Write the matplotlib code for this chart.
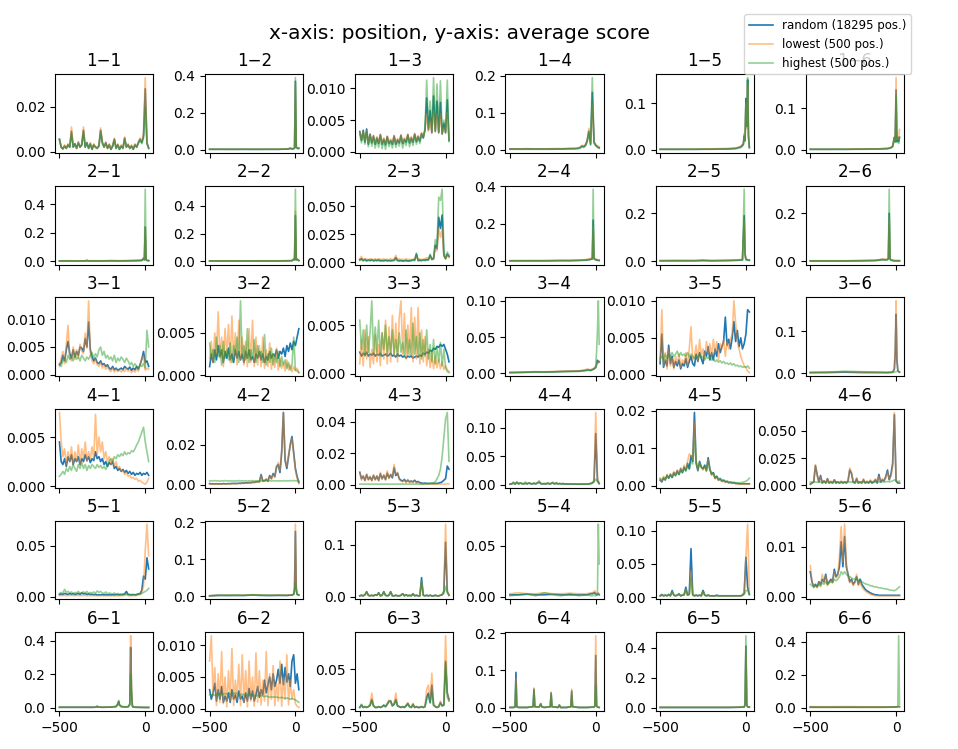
import matplotlib
matplotlib.use("Agg")
import matplotlib.pyplot as plt

labels = ["random (18295 pos.)", "lowest (500 pos.)", "highest (500 pos.)"]
colors = ["#1f77b4", "#ff7f0e", "#2ca02c"]

# every 10th position, -500 .. 20
pos_fine = list(range(-500, 21, 10))

# ---- row 1 ----
pos_1_1 = pos_fine
rand_1_1 = [0.0055, 0.002, 0.0012, 0.0025, 0.0015, 0.003, 0.002, 0.009, 0.002, 0.0035,
            0.0015, 0.004, 0.002, 0.003, 0.0095, 0.002, 0.004, 0.0015, 0.0035, 0.001,
            0.003, 0.002, 0.0015, 0.0025, 0.0095, 0.004, 0.002, 0.004, 0.0015, 0.003,
            0.001, 0.0025, 0.0055, 0.0015, 0.003, 0.001, 0.0025, 0.0015, 0.006, 0.002,
            0.003, 0.0015, 0.0025, 0.001, 0.003, 0.002, 0.004, 0.0055, 0.004, 0.007,
            0.028, 0.004, 0.0015]
low_1_1 = [0.005, 0.0025, 0.001, 0.003, 0.0012, 0.0035, 0.0018, 0.011, 0.0025, 0.003,
           0.0012, 0.0045, 0.0018, 0.0035, 0.011, 0.0025, 0.0038, 0.0012, 0.004, 0.0012,
           0.0035, 0.0018, 0.0012, 0.003, 0.0105, 0.0045, 0.0018, 0.0042, 0.0012, 0.0035,
           0.0012, 0.003, 0.006, 0.0012, 0.0035, 0.0012, 0.003, 0.0012, 0.0065, 0.0018,
           0.0035, 0.0012, 0.003, 0.0012, 0.0035, 0.0018, 0.0045, 0.006, 0.0045, 0.008,
           0.033, 0.0035, 0.0012]
high_1_1 = [0.0055, 0.0018, 0.0012, 0.0022, 0.0015, 0.0028, 0.002, 0.008, 0.002, 0.003,
            0.0015, 0.0035, 0.002, 0.0028, 0.0085, 0.002, 0.0035, 0.0015, 0.003, 0.001,
            0.0028, 0.002, 0.0015, 0.0022, 0.0085, 0.0035, 0.002, 0.0035, 0.0015, 0.0028,
            0.001, 0.0022, 0.005, 0.0015, 0.0028, 0.001, 0.0022, 0.0015, 0.0055, 0.002,
            0.0028, 0.0015, 0.0022, 0.001, 0.0028, 0.002, 0.0035, 0.005, 0.0035, 0.006,
            0.02, 0.0035, 0.0015]

pos_1_2 = [-500, -450, -400, -350, -300, -250, -200, -150, -100, -60, -40, -30, -20, -10, -5, 0, 5, 10, 15, 20]
rand_1_2 = [0.002, 0.002, 0.002, 0.002, 0.002, 0.002, 0.002, 0.002, 0.002, 0.003, 0.004, 0.008, 0.004, 0.006, 0.01, 0.37, 0.012, 0.01, 0.006, 0.008]
low_1_2 = [0.002, 0.003, 0.002, 0.002, 0.003, 0.002, 0.002, 0.003, 0.003, 0.004, 0.006, 0.01, 0.005, 0.008, 0.012, 0.36, 0.015, 0.012, 0.008, 0.01]
high_1_2 = [0.002, 0.002, 0.002, 0.002, 0.002, 0.002, 0.002, 0.002, 0.002, 0.003, 0.003, 0.006, 0.003, 0.005, 0.008, 0.39, 0.01, 0.008, 0.005, 0.006]

pos_1_3 = pos_fine
rand_1_3 = [0.0032, 0.0018, 0.0034, 0.0015, 0.0036, 0.0012, 0.0028, 0.0014, 0.0025, 0.0012,
            0.0022, 0.0013, 0.0027, 0.0012, 0.002, 0.0011, 0.0024, 0.0013, 0.0018, 0.0012,
            0.0025, 0.0012, 0.0019, 0.0014, 0.0026, 0.0013, 0.002, 0.0015, 0.0027, 0.0014,
            0.0022, 0.0015, 0.0028, 0.0016, 0.0024, 0.0017, 0.0029, 0.0022, 0.0035, 0.0085,
            0.0035, 0.0065, 0.003, 0.0088, 0.0032, 0.008, 0.003, 0.0078, 0.0028, 0.0045,
            0.003, 0.0082, 0.0018]
low_1_3 = [0.003, 0.002, 0.0032, 0.0017, 0.0033, 0.0014, 0.0027, 0.0016, 0.0026, 0.0014,
           0.0024, 0.0015, 0.0028, 0.0014, 0.0022, 0.0013, 0.0025, 0.0015, 0.002, 0.0014,
           0.0026, 0.0014, 0.0021, 0.0016, 0.0027, 0.0015, 0.0022, 0.0017, 0.0028, 0.0016,
           0.0024, 0.0017, 0.0029, 0.0018, 0.0026, 0.0019, 0.003, 0.0024, 0.0033, 0.006,
           0.0032, 0.005, 0.003, 0.0065, 0.0032, 0.006, 0.003, 0.006, 0.0028, 0.0038,
           0.003, 0.0062, 0.002]
high_1_3 = [0.0028, 0.0014, 0.003, 0.0012, 0.0032, 0.0008, 0.0025, 0.0009, 0.0022, 0.0006,
            0.002, 0.0007, 0.0024, 0.0005, 0.0018, 0.0004, 0.0022, 0.0008, 0.0016, 0.0006,
            0.0022, 0.0007, 0.0017, 0.0009, 0.0024, 0.0006, 0.0018, 0.001, 0.0025, 0.0008,
            0.002, 0.001, 0.0026, 0.0012, 0.0022, 0.0013, 0.0027, 0.0022, 0.0036, 0.0113,
            0.0038, 0.008, 0.0032, 0.0117, 0.0035, 0.0107, 0.0032, 0.0112, 0.003, 0.005,
            0.0032, 0.0113, 0.0016]

pos_1_4 = [-500, -450, -400, -350, -300, -250, -200, -150, -120, -100, -90, -80, -70, -60, -50, -40, -30, -20, -10, 0, 10, 20]
rand_1_4 = [0.002, 0.002, 0.002, 0.002, 0.002, 0.002, 0.002, 0.003, 0.003, 0.004, 0.006, 0.01, 0.008, 0.012, 0.025, 0.05, 0.015, 0.155, 0.02, 0.012, 0.008, 0.005]
low_1_4 = [0.002, 0.002, 0.003, 0.002, 0.002, 0.003, 0.003, 0.003, 0.004, 0.005, 0.008, 0.012, 0.01, 0.015, 0.022, 0.058, 0.018, 0.12, 0.022, 0.015, 0.01, 0.008]
high_1_4 = [0.001, 0.001, 0.001, 0.001, 0.001, 0.001, 0.002, 0.002, 0.002, 0.003, 0.004, 0.008, 0.006, 0.01, 0.02, 0.045, 0.012, 0.195, 0.018, 0.01, 0.006, 0.004]

pos_1_5 = [-500, -400, -300, -200, -100, -60, -40, -30, -20, -15, -10, -5, 0, 5, 10, 15, 20]
rand_1_5 = [0.001, 0.001, 0.001, 0.0015, 0.002, 0.003, 0.005, 0.006, 0.01, 0.012, 0.03, 0.02, 0.11, 0.05, 0.15, 0.03, 0.005]
low_1_5 = [0.001, 0.001, 0.0015, 0.002, 0.003, 0.004, 0.006, 0.008, 0.012, 0.014, 0.035, 0.022, 0.1, 0.045, 0.14, 0.03, 0.006]
high_1_5 = [0.001, 0.001, 0.001, 0.001, 0.0015, 0.002, 0.004, 0.005, 0.008, 0.01, 0.028, 0.018, 0.1, 0.05, 0.155, 0.03, 0.004]

pos_1_6 = [-500, -400, -300, -200, -100, -50, -30, -20, -10, -5, 0, 5, 10, 15, 20]
rand_1_6 = [0.001, 0.001, 0.001, 0.0015, 0.002, 0.003, 0.005, 0.008, 0.03, 0.02, 0.145, 0.02, 0.03, 0.02, 0.03]
low_1_6 = [0.001, 0.001, 0.0015, 0.002, 0.002, 0.003, 0.006, 0.01, 0.03, 0.022, 0.175, 0.025, 0.03, 0.025, 0.049]
high_1_6 = [0.001, 0.001, 0.001, 0.001, 0.0015, 0.002, 0.004, 0.007, 0.025, 0.018, 0.13, 0.018, 0.025, 0.015, 0.03]

# ---- row 2 ----
pos_2_1 = [-500, -450, -400, -350, -340, -330, -300, -250, -200, -150, -100, -50, -20, -10, -5, 0, 5, 10, 20]
rand_2_1 = [0.002, 0.002, 0.002, 0.002, 0.004, 0.002, 0.002, 0.002, 0.003, 0.002, 0.003, 0.004, 0.006, 0.02, 0.01, 0.24, 0.01, 0.006, 0.004]
low_2_1 = [0.002, 0.004, 0.002, 0.003, 0.012, 0.003, 0.004, 0.003, 0.006, 0.004, 0.006, 0.008, 0.01, 0.022, 0.012, 0.24, 0.012, 0.008, 0.006]
high_2_1 = [0.002, 0.002, 0.002, 0.002, 0.002, 0.002, 0.002, 0.002, 0.002, 0.002, 0.002, 0.003, 0.004, 0.015, 0.008, 0.505, 0.008, 0.004, 0.003]

pos_2_2 = [-500, -400, -300, -200, -100, -50, -20, -10, -5, 0, 5, 10, 20]
rand_2_2 = [0.002, 0.002, 0.002, 0.002, 0.002, 0.003, 0.004, 0.015, 0.01, 0.33, 0.01, 0.015, 0.005]
low_2_2 = [0.002, 0.003, 0.002, 0.003, 0.003, 0.004, 0.005, 0.016, 0.012, 0.36, 0.012, 0.016, 0.006]
high_2_2 = [0.002, 0.002, 0.002, 0.002, 0.002, 0.002, 0.003, 0.012, 0.008, 0.52, 0.008, 0.012, 0.004]

pos_2_3 = pos_fine
rand_2_3 = [0.002, 0.003, 0.0015, 0.0025, 0.0012, 0.002, 0.0015, 0.0022, 0.0012, 0.0018,
            0.0015, 0.002, 0.0012, 0.0015, 0.0012, 0.0018, 0.0012, 0.0015, 0.0012, 0.0015,
            0.0018, 0.004, 0.0015, 0.0012, 0.0015, 0.001, 0.0012, 0.0015, 0.001, 0.0012,
            0.0015, 0.002, 0.0018, 0.007, 0.0015, 0.0018, 0.0015, 0.002, 0.0018, 0.0022,
            0.002, 0.006, 0.0025, 0.003, 0.015, 0.012, 0.04, 0.03, 0.042, 0.006,
            0.003, 0.007, 0.005]
low_2_3 = [0.003, 0.005, 0.002, 0.003, 0.0025, 0.002, 0.003, 0.0025, 0.002, 0.003,
           0.002, 0.003, 0.0025, 0.002, 0.003, 0.002, 0.0025, 0.002, 0.003, 0.002,
           0.0025, 0.006, 0.002, 0.003, 0.002, 0.0025, 0.002, 0.003, 0.002, 0.0025,
           0.002, 0.0025, 0.003, 0.005, 0.002, 0.003, 0.002, 0.0025, 0.003, 0.004,
           0.003, 0.005, 0.003, 0.004, 0.012, 0.01, 0.03, 0.022, 0.03, 0.005,
           0.003, 0.006, 0.004]
high_2_3 = [0.0015, 0.002, 0.001, 0.0015, 0.001, 0.0012, 0.001, 0.0015, 0.001, 0.0012,
            0.001, 0.0012, 0.001, 0.001, 0.001, 0.0012, 0.001, 0.001, 0.001, 0.001,
            0.0012, 0.0025, 0.001, 0.001, 0.001, 0.001, 0.001, 0.001, 0.001, 0.001,
            0.001, 0.0015, 0.0012, 0.008, 0.001, 0.0012, 0.001, 0.0015, 0.0012, 0.0015,
            0.002, 0.007, 0.002, 0.003, 0.02, 0.015, 0.058, 0.055, 0.065, 0.01,
            0.003, 0.009, 0.006]

pos_2_4 = [-500, -400, -300, -200, -150, -100, -60, -40, -30, -20, -15, -10, -5, 0, 10, 20]
rand_2_4 = [0.002, 0.002, 0.002, 0.003, 0.003, 0.004, 0.006, 0.008, 0.01, 0.012, 0.22, 0.015, 0.01, 0.008, 0.005, 0.004]
low_2_4 = [0.002, 0.003, 0.003, 0.004, 0.004, 0.005, 0.008, 0.012, 0.015, 0.015, 0.18, 0.02, 0.014, 0.012, 0.008, 0.005]
high_2_4 = [0.001, 0.001, 0.001, 0.002, 0.002, 0.003, 0.004, 0.006, 0.008, 0.01, 0.385, 0.012, 0.008, 0.006, 0.004, 0.003]

pos_2_5 = [-500, -400, -300, -250, -200, -100, -50, -20, -10, -5, 0, 10, 20]
rand_2_5 = [0.002, 0.002, 0.002, 0.003, 0.002, 0.003, 0.004, 0.006, 0.19, 0.03, 0.008, 0.005, 0.004]
low_2_5 = [0.002, 0.004, 0.003, 0.006, 0.003, 0.004, 0.005, 0.008, 0.17, 0.035, 0.01, 0.006, 0.005]
high_2_5 = [0.001, 0.001, 0.001, 0.002, 0.001, 0.002, 0.003, 0.004, 0.3, 0.025, 0.006, 0.004, 0.003]

pos_2_6 = [-500, -400, -300, -200, -120, -100, -80, -60, -50, -45, -40, -35, -30, -20, -10, 0, 10, 20]
rand_2_6 = [0.002, 0.002, 0.002, 0.003, 0.004, 0.006, 0.008, 0.007, 0.008, 0.012, 0.2, 0.01, 0.006, 0.004, 0.003, 0.003, 0.003, 0.003]
low_2_6 = [0.003, 0.003, 0.003, 0.004, 0.005, 0.007, 0.01, 0.008, 0.01, 0.015, 0.18, 0.012, 0.008, 0.005, 0.004, 0.003, 0.003, 0.003]
high_2_6 = [0.002, 0.002, 0.002, 0.002, 0.003, 0.004, 0.006, 0.005, 0.006, 0.01, 0.3, 0.008, 0.005, 0.003, 0.002, 0.002, 0.002, 0.002]

# ---- row 3 ----
pos_3_1 = pos_fine
rand_3_1 = [0.0018, 0.0022, 0.0035, 0.0025, 0.0045, 0.006, 0.0038, 0.003, 0.0045, 0.0032,
            0.0042, 0.0035, 0.005, 0.0048, 0.0042, 0.0065, 0.005, 0.0095, 0.0045, 0.0032,
            0.0025, 0.003, 0.0022, 0.002, 0.0025, 0.0018, 0.002, 0.0015, 0.0018, 0.0012,
            0.001, 0.0015, 0.0009, 0.0012, 0.0008, 0.001, 0.0012, 0.0009, 0.0015, 0.0012,
            0.001, 0.0014, 0.0008, 0.0012, 0.0009, 0.0015, 0.001, 0.0018, 0.0028, 0.0042,
            0.0022, 0.0025, 0.0015]
low_3_1 = [0.0015, 0.003, 0.0042, 0.002, 0.0055, 0.0089, 0.003, 0.0025, 0.005, 0.0028,
           0.0045, 0.003, 0.0055, 0.0042, 0.0038, 0.0075, 0.0048, 0.0133, 0.004, 0.0025,
           0.002, 0.0028, 0.0018, 0.0015, 0.0022, 0.0012, 0.0018, 0.001, 0.0015, 0.0008,
           0.0006, 0.0012, 0.0005, 0.001, 0.0006, 0.0008, 0.0005, 0.0009, 0.0006, 0.0012,
           0.0006, 0.001, 0.0004, 0.0008, 0.0005, 0.001, 0.0006, 0.0018, 0.003, 0.0035,
           0.0008, 0.0012, 0.001]
high_3_1 = [0.002, 0.0015, 0.0025, 0.003, 0.0022, 0.0035, 0.0028, 0.0032, 0.0025, 0.0038,
            0.0028, 0.0032, 0.0025, 0.0035, 0.003, 0.0025, 0.0032, 0.0028, 0.0035, 0.004,
            0.003, 0.0038, 0.0032, 0.0045, 0.005, 0.0035, 0.0042, 0.003, 0.0035, 0.0028,
            0.0032, 0.0025, 0.0035, 0.0022, 0.003, 0.0025, 0.0032, 0.0028, 0.0022, 0.003,
            0.0025, 0.0018, 0.0022, 0.0015, 0.002, 0.0015, 0.0012, 0.0018, 0.0015, 0.002,
            0.0012, 0.008, 0.005]

pos_3_2 = pos_fine
rand_3_2 = [0.001, 0.0025, 0.0015, 0.003, 0.0018, 0.0035, 0.0022, 0.003, 0.0015, 0.0028,
            0.002, 0.0032, 0.0018, 0.0025, 0.0015, 0.003, 0.002, 0.0028, 0.0018, 0.0025,
            0.0015, 0.0028, 0.002, 0.003, 0.0018, 0.0022, 0.0015, 0.0025, 0.002, 0.0028,
            0.0018, 0.0025, 0.0015, 0.0022, 0.0018, 0.0028, 0.002, 0.0025, 0.0022, 0.003,
            0.002, 0.0028, 0.0025, 0.0032, 0.0022, 0.0035, 0.0028, 0.0038, 0.003, 0.004,
            0.0035, 0.0045, 0.0055]
low_3_2 = [0.002, 0.004, 0.0015, 0.005, 0.0025, 0.0075, 0.002, 0.0045, 0.001, 0.0055,
           0.0025, 0.006, 0.0015, 0.007, 0.002, 0.005, 0.0012, 0.0065, 0.0018, 0.0045,
           0.0012, 0.004, 0.001, 0.0055, 0.0015, 0.0065, 0.001, 0.0045, 0.0012, 0.0035,
           0.001, 0.0045, 0.0008, 0.003, 0.001, 0.0038, 0.0007, 0.0025, 0.0009, 0.0032,
           0.0006, 0.002, 0.0008, 0.0015, 0.0005, 0.0018, 0.0006, 0.0012, 0.0004, 0.001,
           0.0005, 0.0008, 0.0003]
high_3_2 = [0.0038, 0.002, 0.003, 0.0015, 0.0045, 0.0022, 0.0035, 0.0012, 0.004, 0.002,
            0.003, 0.0018, 0.0038, 0.0015, 0.0035, 0.0025, 0.0045, 0.0015, 0.0088, 0.002,
            0.0035, 0.0018, 0.0055, 0.0015, 0.003, 0.002, 0.0042, 0.0015, 0.0035, 0.0022,
            0.0028, 0.0015, 0.0048, 0.0012, 0.0025, 0.0015, 0.0032, 0.0012, 0.0025, 0.0015,
            0.0028, 0.001, 0.0022, 0.0012, 0.0018, 0.0008, 0.0015, 0.0006, 0.0012, 0.0045,
            0.0006, 0.0005, 0.0003]

pos_3_3 = pos_fine
rand_3_3 = [0.0022, 0.0018, 0.0021, 0.0019, 0.0022, 0.0018, 0.002, 0.0019, 0.0021, 0.0018,
            0.002, 0.0019, 0.0021, 0.0018, 0.0019, 0.002, 0.0018, 0.0019, 0.0021, 0.0018,
            0.0019, 0.0017, 0.002, 0.0018, 0.0019, 0.0017, 0.0018, 0.0016, 0.0018, 0.0017,
            0.0018, 0.0016, 0.0017, 0.0018, 0.0017, 0.0019, 0.0018, 0.0021, 0.002, 0.0022,
            0.0021, 0.0024, 0.0023, 0.0026, 0.0025, 0.0028, 0.0027, 0.003, 0.0028, 0.003,
            0.0025, 0.002, 0.0012]
low_3_3 = [0.001, 0.0035, 0.0008, 0.0045, 0.0015, 0.0038, 0.0006, 0.0025, 0.001, 0.004,
           0.0012, 0.003, 0.0008, 0.0042, 0.0015, 0.0055, 0.001, 0.0048, 0.0012, 0.006,
           0.0018, 0.0052, 0.0012, 0.0058, 0.0075, 0.002, 0.0062, 0.0015, 0.005, 0.0018,
           0.0068, 0.0012, 0.0058, 0.0015, 0.0068, 0.001, 0.0045, 0.0012, 0.0038, 0.0008,
           0.0025, 0.0006, 0.0022, 0.0005, 0.0018, 0.0006, 0.0015, 0.0005, 0.0012, 0.0004,
           0.0008, 0.0004, 0.0002]
high_3_3 = [0.0055, 0.0025, 0.0045, 0.0018, 0.005, 0.0022, 0.0042, 0.0075, 0.002, 0.0048,
            0.0022, 0.0055, 0.0018, 0.0042, 0.0025, 0.005, 0.002, 0.0038, 0.0022, 0.0045,
            0.002, 0.0035, 0.0018, 0.0042, 0.0022, 0.0032, 0.0018, 0.0045, 0.002, 0.0035,
            0.0018, 0.0052, 0.002, 0.0038, 0.0018, 0.0042, 0.0015, 0.0035, 0.0018, 0.0045,
            0.0015, 0.003, 0.0012, 0.0035, 0.001, 0.0028, 0.0012, 0.0032, 0.0008, 0.0025,
            0.0006, 0.0002, 0.0001]

pos_3_4 = [-500, -450, -400, -350, -300, -250, -200, -150, -100, -80, -60, -50, -40, -30, -20, -10, 0, 5, 10, 15, 20]
rand_3_4 = [0.001, 0.0012, 0.0015, 0.002, 0.0018, 0.002, 0.0025, 0.0028, 0.003, 0.0035, 0.004, 0.0045, 0.005, 0.004, 0.005, 0.006, 0.008, 0.012, 0.018, 0.015, 0.016]
low_3_4 = [0.001, 0.0015, 0.002, 0.0022, 0.002, 0.0025, 0.003, 0.003, 0.0035, 0.004, 0.005, 0.006, 0.005, 0.005, 0.006, 0.007, 0.009, 0.012, 0.015, 0.014, 0.016]
high_3_4 = [0.001, 0.001, 0.0012, 0.0015, 0.0015, 0.0018, 0.002, 0.0022, 0.0025, 0.003, 0.0035, 0.004, 0.004, 0.0035, 0.005, 0.006, 0.01, 0.03, 0.06, 0.1, 0.04]

pos_3_5 = pos_fine
rand_3_5 = [0.0015, 0.0055, 0.001, 0.002, 0.0012, 0.004, 0.0015, 0.0025, 0.001, 0.0018,
            0.0012, 0.002, 0.0008, 0.0015, 0.0012, 0.0022, 0.001, 0.0018, 0.0025, 0.0015,
            0.0012, 0.0028, 0.0018, 0.003, 0.0022, 0.0015, 0.0032, 0.0025, 0.0038, 0.002,
            0.003, 0.002, 0.0035, 0.0025, 0.0042, 0.003, 0.0038, 0.0045, 0.0078, 0.004,
            0.0048, 0.0035, 0.005, 0.0072, 0.0045, 0.006, 0.0038, 0.005, 0.0035, 0.0042,
            0.0055, 0.0088, 0.0085]
low_3_5 = [0.002, 0.0088, 0.0012, 0.003, 0.0008, 0.0035, 0.0012, 0.0022, 0.0008, 0.0025,
           0.0015, 0.0028, 0.001, 0.002, 0.0015, 0.003, 0.0012, 0.0035, 0.0065, 0.002,
           0.0025, 0.004, 0.0018, 0.0048, 0.0025, 0.0035, 0.0022, 0.0045, 0.003, 0.0042,
           0.0025, 0.0048, 0.003, 0.0045, 0.002, 0.0042, 0.0035, 0.0048, 0.0025, 0.0045,
           0.0035, 0.0048, 0.0055, 0.01, 0.007, 0.0045, 0.0035, 0.0025, 0.0018, 0.0012,
           0.001, 0.0005, 0.0003]
high_3_5 = [0.0022, 0.0025, 0.002, 0.0028, 0.0022, 0.0026, 0.0025, 0.003, 0.0025, 0.0028,
            0.0032, 0.0025, 0.003, 0.0026, 0.0028, 0.0025, 0.003, 0.0024, 0.0028, 0.0025,
            0.0022, 0.0026, 0.0024, 0.0028, 0.0022, 0.0025, 0.002, 0.0024, 0.0022, 0.0025,
            0.002, 0.0022, 0.0018, 0.002, 0.0017, 0.0019, 0.0016, 0.0018, 0.0015, 0.0016,
            0.0014, 0.0016, 0.0013, 0.0015, 0.0012, 0.0013, 0.0011, 0.0012, 0.001, 0.0011,
            0.001, 0.0012, 0.0009]

pos_3_6 = [-500, -400, -300, -200, -100, -50, -20, -10, -5, 0, 5, 10, 15, 20]
rand_3_6 = [0.002, 0.002, 0.003, 0.002, 0.002, 0.002, 0.003, 0.01, 0.05, 0.14, 0.03, 0.008, 0.004, 0.003]
low_3_6 = [0.002, 0.003, 0.004, 0.003, 0.002, 0.002, 0.003, 0.012, 0.06, 0.172, 0.035, 0.01, 0.005, 0.003]
high_3_6 = [0.002, 0.003, 0.005, 0.004, 0.003, 0.002, 0.002, 0.003, 0.004, 0.004, 0.005, 0.006, 0.004, 0.003]

# ---- row 4 ----
pos_4_1 = pos_fine
rand_4_1 = [0.0045, 0.0025, 0.0022, 0.0028, 0.002, 0.003, 0.0025, 0.0032, 0.0022, 0.0028,
            0.0025, 0.003, 0.0022, 0.0028, 0.0025, 0.0032, 0.0026, 0.003, 0.0024, 0.0028,
            0.0026, 0.0035, 0.0028, 0.003, 0.0025, 0.0028, 0.0022, 0.0025, 0.002, 0.0024,
            0.0022, 0.0025, 0.0018, 0.002, 0.0016, 0.0018, 0.0015, 0.0017, 0.0014, 0.0016,
            0.0013, 0.0015, 0.0012, 0.0014, 0.0011, 0.0013, 0.0012, 0.0014, 0.0011, 0.0013,
            0.0012, 0.0014, 0.0011]
low_4_1 = [0.0075, 0.0045, 0.003, 0.0038, 0.0022, 0.0035, 0.0025, 0.004, 0.0022, 0.0035,
           0.0025, 0.0042, 0.0022, 0.0038, 0.0028, 0.0045, 0.0025, 0.0035, 0.0028, 0.004,
           0.0028, 0.0073, 0.0032, 0.005, 0.0035, 0.0045, 0.0028, 0.0035, 0.0025, 0.003,
           0.0022, 0.0028, 0.002, 0.0025, 0.0018, 0.002, 0.0015, 0.0016, 0.0012, 0.0014,
           0.001, 0.0011, 0.0008, 0.0009, 0.0007, 0.0008, 0.0005, 0.0006, 0.0004, 0.0003,
           0.0002, 0.0004, 0.0008]
high_4_1 = [0.001, 0.0012, 0.0015, 0.0012, 0.0018, 0.0015, 0.002, 0.0016, 0.0022, 0.0018,
            0.0015, 0.0022, 0.0018, 0.0024, 0.0018, 0.0022, 0.0016, 0.0021, 0.0018, 0.0022,
            0.002, 0.0018, 0.0022, 0.0019, 0.0021, 0.0018, 0.002, 0.0017, 0.0022, 0.0025,
            0.0028, 0.0025, 0.003, 0.0028, 0.0032, 0.003, 0.0033, 0.0031, 0.0035, 0.0032,
            0.0034, 0.0033, 0.0036, 0.0035, 0.0038, 0.0042, 0.0045, 0.005, 0.0055, 0.006,
            0.0045, 0.0035, 0.0025]

pos_4_2 = pos_fine
rand_4_2 = [0.0005, 0.0003, 0.0004, 0.0003, 0.0004, 0.0003, 0.0004, 0.0003, 0.0005, 0.0004,
            0.0004, 0.0005, 0.0004, 0.0006, 0.0005, 0.0006, 0.0005, 0.0007, 0.0006, 0.0008,
            0.0007, 0.0009, 0.0008, 0.001, 0.0009, 0.0012, 0.0011, 0.0013, 0.0015, 0.0014,
            0.005, 0.0018, 0.002, 0.0025, 0.0018, 0.0045, 0.003, 0.0055, 0.004, 0.009,
            0.01, 0.006, 0.016, 0.036, 0.012, 0.008, 0.014, 0.02, 0.024, 0.016,
            0.008, 0.004, 0.001]
low_4_2 = [0.0003, 0.0002, 0.0003, 0.0002, 0.0003, 0.0002, 0.0003, 0.0002, 0.0003, 0.0003,
           0.0003, 0.0004, 0.0003, 0.0004, 0.0004, 0.0005, 0.0004, 0.0006, 0.0005, 0.0006,
           0.0006, 0.0008, 0.0007, 0.0009, 0.0008, 0.001, 0.001, 0.0012, 0.0013, 0.0012,
           0.0045, 0.0015, 0.0018, 0.003, 0.0015, 0.004, 0.0028, 0.005, 0.0035, 0.008,
           0.011, 0.007, 0.017, 0.036, 0.013, 0.009, 0.015, 0.019, 0.023, 0.015,
           0.007, 0.003, 0.0005]
high_4_2 = [0.0018, 0.0019, 0.0018, 0.002, 0.0018, 0.0019, 0.0017, 0.0019, 0.0018, 0.002,
            0.0018, 0.0019, 0.0018, 0.0019, 0.0017, 0.0019, 0.0018, 0.002, 0.0018, 0.0019,
            0.0018, 0.0019, 0.0017, 0.0019, 0.0018, 0.002, 0.0018, 0.0019, 0.0018, 0.0019,
            0.0018, 0.002, 0.0018, 0.0019, 0.0017, 0.0019, 0.0018, 0.002, 0.0018, 0.0019,
            0.0018, 0.0019, 0.0018, 0.002, 0.0018, 0.0019, 0.0018, 0.002, 0.0019, 0.002,
            0.0019, 0.0018, 0.0017]

pos_4_3 = pos_fine
rand_4_3 = [0.008, 0.004, 0.0055, 0.003, 0.0065, 0.0035, 0.005, 0.003, 0.006, 0.0035,
            0.0055, 0.003, 0.007, 0.004, 0.006, 0.0035, 0.0075, 0.0045, 0.0065, 0.0045,
            0.011, 0.006, 0.0075, 0.004, 0.003, 0.0025, 0.0035, 0.002, 0.003, 0.002,
            0.0025, 0.002, 0.003, 0.0018, 0.0022, 0.0015, 0.0012, 0.001, 0.0012, 0.001,
            0.001, 0.0009, 0.001, 0.0009, 0.001, 0.0009, 0.0012, 0.0015, 0.002, 0.003,
            0.004, 0.012, 0.01]
low_4_3 = [0.008, 0.003, 0.006, 0.0025, 0.007, 0.003, 0.0055, 0.0025, 0.0065, 0.003,
           0.006, 0.0025, 0.008, 0.0035, 0.0065, 0.003, 0.009, 0.004, 0.007, 0.005,
           0.013, 0.007, 0.008, 0.0035, 0.0025, 0.002, 0.003, 0.0015, 0.0035, 0.0015,
           0.002, 0.0015, 0.0025, 0.0012, 0.0018, 0.001, 0.0008, 0.0006, 0.0008, 0.0006,
           0.0006, 0.0005, 0.0006, 0.0005, 0.0006, 0.0005, 0.0006, 0.0005, 0.0006, 0.0005,
           0.0006, 0.0008, 0.0006]
high_4_3 = [0.0005, 0.0006, 0.0005, 0.0006, 0.0005, 0.0006, 0.0005, 0.0006, 0.0005, 0.0006,
            0.0005, 0.0006, 0.0005, 0.0006, 0.0005, 0.0006, 0.0005, 0.0006, 0.0005, 0.0006,
            0.0005, 0.0006, 0.0005, 0.0006, 0.0005, 0.0006, 0.0005, 0.0006, 0.0005, 0.0006,
            0.0005, 0.0006, 0.0005, 0.0006, 0.0005, 0.0006, 0.0005, 0.0006, 0.0006, 0.0007,
            0.0008, 0.001, 0.0012, 0.0015, 0.002, 0.004, 0.006, 0.01, 0.018, 0.03,
            0.042, 0.046, 0.015]

pos_4_4 = pos_fine
rand_4_4 = [0.001, 0.0015, 0.003, 0.0012, 0.004, 0.0015, 0.003, 0.002, 0.0015, 0.0025,
            0.0015, 0.003, 0.002, 0.0015, 0.0025, 0.0015, 0.003, 0.0045, 0.002, 0.0015,
            0.002, 0.0015, 0.0025, 0.0015, 0.002, 0.003, 0.0015, 0.0025, 0.0015, 0.002,
            0.0015, 0.002, 0.0012, 0.0015, 0.001, 0.0015, 0.0012, 0.001, 0.0012, 0.001,
            0.001, 0.0012, 0.001, 0.0012, 0.001, 0.0012, 0.0015, 0.002, 0.003, 0.006,
            0.09, 0.008, 0.002]
low_4_4 = [0.0012, 0.0018, 0.0028, 0.0015, 0.0035, 0.0018, 0.0028, 0.0022, 0.0018, 0.0028,
           0.0018, 0.0028, 0.0022, 0.0018, 0.0028, 0.0018, 0.0032, 0.004, 0.0022, 0.0018,
           0.0022, 0.0018, 0.0028, 0.0018, 0.0022, 0.0032, 0.0018, 0.0028, 0.0018, 0.0022,
           0.0018, 0.0022, 0.0015, 0.0018, 0.0012, 0.0018, 0.0015, 0.0012, 0.0015, 0.0012,
           0.0012, 0.0015, 0.0012, 0.0015, 0.0012, 0.0015, 0.0018, 0.0025, 0.004, 0.008,
           0.127, 0.012, 0.003]
high_4_4 = [0.001, 0.0015, 0.005, 0.0012, 0.0055, 0.0015, 0.0035, 0.002, 0.0015, 0.005,
            0.0015, 0.0035, 0.002, 0.0015, 0.003, 0.0015, 0.0035, 0.007, 0.002, 0.0015,
            0.002, 0.0015, 0.0035, 0.0015, 0.003, 0.0045, 0.0015, 0.004, 0.0015, 0.002,
            0.0015, 0.002, 0.0012, 0.0015, 0.001, 0.0015, 0.0012, 0.001, 0.0012, 0.001,
            0.001, 0.0012, 0.001, 0.0012, 0.001, 0.0012, 0.0015, 0.002, 0.003, 0.005,
            0.01, 0.005, 0.002]

pos_4_5 = pos_fine
rand_4_5 = [0.0015, 0.001, 0.002, 0.0015, 0.0028, 0.002, 0.003, 0.0022, 0.0035, 0.0028,
            0.004, 0.003, 0.0045, 0.0035, 0.005, 0.004, 0.006, 0.0045, 0.008, 0.0065,
            0.0196, 0.006, 0.004, 0.0065, 0.005, 0.0045, 0.0055, 0.004, 0.0075, 0.0045,
            0.003, 0.0035, 0.002, 0.0025, 0.0015, 0.0018, 0.0012, 0.0014, 0.001, 0.0011,
            0.0008, 0.0009, 0.0007, 0.0008, 0.0006, 0.0006, 0.0005, 0.0005, 0.0005, 0.0005,
            0.0005, 0.0005, 0.0005]
low_4_5 = [0.0018, 0.0012, 0.0025, 0.0015, 0.003, 0.0022, 0.0032, 0.0025, 0.0038, 0.003,
           0.0042, 0.0032, 0.0048, 0.0038, 0.0055, 0.0042, 0.0065, 0.0085, 0.008, 0.007,
           0.017, 0.0065, 0.0042, 0.006, 0.0048, 0.0042, 0.005, 0.0038, 0.007, 0.0042,
           0.0028, 0.0032, 0.0018, 0.0022, 0.0014, 0.0016, 0.0011, 0.0012, 0.0009, 0.001,
           0.0007, 0.0008, 0.0006, 0.0007, 0.0005, 0.0005, 0.0004, 0.0004, 0.0004, 0.0004,
           0.0004, 0.0004, 0.0004]
high_4_5 = [0.002, 0.0015, 0.0022, 0.0018, 0.0025, 0.002, 0.0028, 0.0022, 0.003, 0.0026,
            0.0035, 0.003, 0.004, 0.0035, 0.0045, 0.004, 0.0052, 0.0045, 0.0065, 0.0058,
            0.012, 0.0065, 0.0045, 0.006, 0.005, 0.0045, 0.0052, 0.0042, 0.0065, 0.0042,
            0.0032, 0.0035, 0.0022, 0.0026, 0.0018, 0.002, 0.0015, 0.0016, 0.0012, 0.0013,
            0.001, 0.001, 0.0009, 0.0009, 0.0008, 0.0008, 0.0008, 0.0008, 0.0009, 0.001,
            0.0012, 0.0015, 0.002]

pos_4_6 = pos_fine
rand_4_6 = [0.001, 0.002, 0.003, 0.018, 0.01, 0.003, 0.009, 0.002, 0.004, 0.002,
            0.006, 0.002, 0.003, 0.002, 0.005, 0.002, 0.003, 0.002, 0.003, 0.002,
            0.003, 0.002, 0.004, 0.014, 0.011, 0.003, 0.002, 0.006, 0.002, 0.003,
            0.002, 0.005, 0.002, 0.003, 0.002, 0.004, 0.002, 0.003, 0.005, 0.002,
            0.01, 0.003, 0.005, 0.004, 0.008, 0.014, 0.005, 0.01, 0.02, 0.065,
            0.004, 0.002, 0.002]
low_4_6 = [0.001, 0.002, 0.003, 0.019, 0.009, 0.003, 0.008, 0.002, 0.004, 0.002,
           0.006, 0.002, 0.004, 0.002, 0.005, 0.003, 0.003, 0.002, 0.004, 0.002,
           0.003, 0.002, 0.004, 0.016, 0.012, 0.004, 0.002, 0.007, 0.002, 0.003,
           0.002, 0.006, 0.002, 0.004, 0.002, 0.005, 0.003, 0.004, 0.006, 0.003,
           0.008, 0.004, 0.006, 0.004, 0.007, 0.012, 0.006, 0.008, 0.017, 0.067,
           0.005, 0.002, 0.002]
high_4_6 = [0.003, 0.0028, 0.0032, 0.003, 0.0028, 0.0032, 0.003, 0.0028, 0.0032, 0.003,
            0.0028, 0.0032, 0.003, 0.0027, 0.0031, 0.0029, 0.0033, 0.0028, 0.003, 0.0032,
            0.0029, 0.0031, 0.0028, 0.0033, 0.003, 0.0028, 0.0032, 0.003, 0.0027, 0.0031,
            0.0029, 0.0032, 0.0028, 0.003, 0.0033, 0.0029, 0.0031, 0.0028, 0.0032, 0.003,
            0.0031, 0.0029, 0.0033, 0.003, 0.0032, 0.0034, 0.0031, 0.0035, 0.004, 0.005,
            0.004, 0.003, 0.004]

# ---- row 5 ----
pos_5_1 = pos_fine
rand_5_1 = [0.002, 0.0025, 0.002, 0.003, 0.0025, 0.002, 0.003, 0.0022, 0.0028, 0.002,
            0.0025, 0.003, 0.002, 0.0035, 0.0025, 0.003, 0.002, 0.0025, 0.002, 0.0022,
            0.0018, 0.002, 0.0015, 0.0018, 0.0015, 0.002, 0.0015, 0.0018, 0.0015, 0.0018,
            0.0015, 0.0018, 0.0015, 0.002, 0.0018, 0.0015, 0.002, 0.0018, 0.0025, 0.005,
            0.002, 0.0018, 0.0015, 0.0018, 0.0015, 0.002, 0.0025, 0.003, 0.006, 0.02,
            0.017, 0.038, 0.027]
low_5_1 = [0.001, 0.0008, 0.0012, 0.0009, 0.001, 0.0008, 0.0011, 0.0009, 0.001, 0.0008,
           0.0009, 0.0011, 0.0008, 0.001, 0.0009, 0.0011, 0.0008, 0.001, 0.0009, 0.0008,
           0.0008, 0.0009, 0.0007, 0.0008, 0.0007, 0.0009, 0.0007, 0.0008, 0.0007, 0.0008,
           0.0007, 0.0008, 0.0007, 0.0008, 0.0007, 0.0008, 0.0009, 0.0008, 0.0012, 0.002,
           0.0008, 0.0009, 0.0008, 0.001, 0.0009, 0.001, 0.0015, 0.002, 0.004, 0.01,
           0.045, 0.071, 0.04]
high_5_1 = [0.003, 0.004, 0.0035, 0.007, 0.004, 0.005, 0.0035, 0.0045, 0.003, 0.004,
            0.0035, 0.005, 0.003, 0.004, 0.0045, 0.0035, 0.005, 0.003, 0.004, 0.0035,
            0.0045, 0.003, 0.0055, 0.004, 0.005, 0.0035, 0.003, 0.0045, 0.0025, 0.0035,
            0.003, 0.0025, 0.0035, 0.002, 0.003, 0.0025, 0.002, 0.0025, 0.002, 0.0022,
            0.002, 0.0018, 0.0022, 0.002, 0.0018, 0.002, 0.0022, 0.0025, 0.003, 0.004,
            0.005, 0.006, 0.008]

pos_5_2 = [-500, -450, -400, -350, -300, -250, -200, -150, -100, -50, -20, -10, -5, 0, 5, 10, 20]
rand_5_2 = [0.001, 0.002, 0.002, 0.002, 0.002, 0.003, 0.002, 0.002, 0.002, 0.002, 0.003, 0.005, 0.02, 0.175, 0.02, 0.005, 0.003]
low_5_2 = [0.001, 0.002, 0.003, 0.002, 0.003, 0.003, 0.003, 0.002, 0.003, 0.003, 0.004, 0.006, 0.025, 0.195, 0.025, 0.006, 0.004]
high_5_2 = [0.001, 0.003, 0.002, 0.003, 0.002, 0.004, 0.003, 0.002, 0.003, 0.002, 0.003, 0.005, 0.015, 0.035, 0.012, 0.004, 0.003]

pos_5_3 = pos_fine
rand_5_3 = [0.002, 0.003, 0.002, 0.004, 0.01, 0.003, 0.002, 0.003, 0.002, 0.004,
            0.003, 0.008, 0.002, 0.003, 0.01, 0.003, 0.002, 0.003, 0.01, 0.002,
            0.002, 0.003, 0.002, 0.002, 0.003, 0.006, 0.002, 0.004, 0.002, 0.003,
            0.002, 0.006, 0.002, 0.003, 0.002, 0.002, 0.037, 0.003, 0.002, 0.003,
            0.002, 0.003, 0.002, 0.002, 0.003, 0.002, 0.002, 0.003, 0.004, 0.01,
            0.105, 0.01, 0.003]
low_5_3 = [0.002, 0.003, 0.002, 0.004, 0.009, 0.003, 0.002, 0.003, 0.002, 0.004,
           0.003, 0.007, 0.002, 0.003, 0.009, 0.003, 0.002, 0.003, 0.009, 0.002,
           0.002, 0.003, 0.002, 0.002, 0.003, 0.006, 0.002, 0.004, 0.002, 0.003,
           0.002, 0.005, 0.002, 0.003, 0.002, 0.002, 0.03, 0.003, 0.002, 0.003,
           0.002, 0.003, 0.002, 0.002, 0.003, 0.002, 0.002, 0.003, 0.005, 0.012,
           0.14, 0.012, 0.003]
high_5_3 = [0.002, 0.003, 0.002, 0.004, 0.009, 0.003, 0.002, 0.003, 0.002, 0.004,
            0.003, 0.007, 0.002, 0.003, 0.009, 0.003, 0.002, 0.003, 0.009, 0.002,
            0.002, 0.003, 0.002, 0.002, 0.003, 0.006, 0.002, 0.004, 0.002, 0.003,
            0.002, 0.005, 0.002, 0.003, 0.002, 0.002, 0.028, 0.003, 0.002, 0.003,
            0.002, 0.003, 0.002, 0.002, 0.003, 0.002, 0.002, 0.003, 0.004, 0.006,
            0.02, 0.008, 0.003]

pos_5_4 = [-500, -450, -400, -350, -300, -250, -200, -150, -100, -50, -30, -20, -10, -5, 0, 5, 10, 15, 20]
rand_5_4 = [0.002, 0.002, 0.0025, 0.002, 0.002, 0.0025, 0.002, 0.002, 0.002, 0.002, 0.003, 0.003, 0.004, 0.004, 0.003, 0.002, 0.002, 0.003, 0.002]
low_5_4 = [0.003, 0.004, 0.003, 0.003, 0.004, 0.003, 0.003, 0.0035, 0.003, 0.003, 0.004, 0.004, 0.005, 0.006, 0.004, 0.003, 0.003, 0.004, 0.003]
high_5_4 = [0.001, 0.002, 0.003, 0.001, 0.004, 0.002, 0.001, 0.003, 0.001, 0.002, 0.001, 0.001, 0.002, 0.001, 0.001, 0.002, 0.003, 0.071, 0.032]

pos_5_5 = pos_fine
rand_5_5 = [0.002, 0.004, 0.002, 0.003, 0.002, 0.004, 0.002, 0.01, 0.003, 0.002,
            0.003, 0.005, 0.002, 0.003, 0.004, 0.015, 0.003, 0.005, 0.073, 0.004,
            0.002, 0.003, 0.002, 0.003, 0.002, 0.01, 0.003, 0.002, 0.003, 0.002,
            0.002, 0.002, 0.002, 0.003, 0.002, 0.002, 0.002, 0.002, 0.002, 0.002,
            0.002, 0.002, 0.002, 0.002, 0.002, 0.002, 0.002, 0.002, 0.003, 0.006,
            0.06, 0.015, 0.004]
low_5_5 = [0.002, 0.003, 0.002, 0.003, 0.002, 0.003, 0.002, 0.008, 0.003, 0.002,
           0.003, 0.004, 0.002, 0.003, 0.003, 0.012, 0.003, 0.004, 0.04, 0.003,
           0.002, 0.003, 0.002, 0.003, 0.002, 0.008, 0.003, 0.002, 0.003, 0.002,
           0.002, 0.002, 0.002, 0.002, 0.002, 0.002, 0.002, 0.002, 0.002, 0.002,
           0.002, 0.002, 0.002, 0.002, 0.002, 0.002, 0.002, 0.002, 0.003, 0.008,
           0.06, 0.11, 0.005]
high_5_5 = [0.002, 0.003, 0.002, 0.003, 0.002, 0.004, 0.002, 0.008, 0.003, 0.002,
            0.003, 0.004, 0.002, 0.003, 0.003, 0.01, 0.003, 0.004, 0.03, 0.003,
            0.002, 0.003, 0.002, 0.003, 0.002, 0.01, 0.003, 0.002, 0.003, 0.002,
            0.002, 0.002, 0.002, 0.002, 0.002, 0.002, 0.002, 0.002, 0.002, 0.002,
            0.002, 0.002, 0.002, 0.002, 0.002, 0.002, 0.002, 0.002, 0.003, 0.004,
            0.01, 0.01, 0.004]

pos_5_6 = pos_fine
rand_5_6 = [0.005, 0.003, 0.002, 0.0025, 0.002, 0.003, 0.0025, 0.0035, 0.003, 0.0045,
            0.0025, 0.003, 0.0035, 0.003, 0.0055, 0.004, 0.0045, 0.006, 0.011, 0.006,
            0.012, 0.006, 0.0045, 0.003, 0.0035, 0.0025, 0.003, 0.004, 0.0025, 0.0035,
            0.0025, 0.002, 0.0015, 0.0012, 0.001, 0.0008, 0.0006, 0.0005, 0.0004, 0.0004,
            0.0003, 0.0003, 0.0003, 0.0003, 0.0003, 0.0003, 0.0003, 0.0003, 0.0003, 0.0003,
            0.0003, 0.0003, 0.0003]
low_5_6 = [0.0062, 0.003, 0.0018, 0.0022, 0.0018, 0.0028, 0.002, 0.0045, 0.0028, 0.0042,
           0.0022, 0.0028, 0.0032, 0.0028, 0.005, 0.0038, 0.0042, 0.008, 0.014, 0.007,
           0.0145, 0.007, 0.004, 0.0028, 0.0032, 0.0022, 0.0028, 0.0045, 0.0022, 0.003,
           0.002, 0.0015, 0.0012, 0.0009, 0.0007, 0.0005, 0.0004, 0.0003, 0.0002, 0.0002,
           0.0002, 0.0002, 0.0002, 0.0002, 0.0002, 0.0002, 0.0002, 0.0002, 0.0002, 0.0002,
           0.0002, 0.0002, 0.0002]
high_5_6 = [0.0025, 0.0022, 0.002, 0.0022, 0.002, 0.0025, 0.0022, 0.0028, 0.0025, 0.003,
            0.0025, 0.0028, 0.003, 0.0028, 0.0035, 0.0032, 0.0035, 0.004, 0.005, 0.0045,
            0.005, 0.0045, 0.0042, 0.004, 0.0038, 0.0035, 0.0036, 0.0038, 0.0032, 0.0035,
            0.003, 0.0028, 0.0026, 0.0025, 0.0024, 0.0022, 0.0022, 0.002, 0.002, 0.0019,
            0.0018, 0.0018, 0.0017, 0.0016, 0.0016, 0.0015, 0.0014, 0.0013, 0.0013, 0.0012,
            0.0014, 0.0017, 0.002]

# ---- row 6 ----
pos_6_1 = [-500, -400, -300, -285, -280, -275, -250, -200, -170, -160, -155, -150, -140, -120, -100, -90, -85, -80, -75, -70, -50, 0, 20]
rand_6_1 = [0.002, 0.002, 0.002, 0.004, 0.008, 0.003, 0.002, 0.003, 0.006, 0.02, 0.035, 0.015, 0.006, 0.004, 0.005, 0.02, 0.36, 0.1, 0.01, 0.003, 0.002, 0.001, 0.001]
low_6_1 = [0.002, 0.002, 0.002, 0.005, 0.01, 0.004, 0.002, 0.003, 0.005, 0.015, 0.03, 0.012, 0.005, 0.003, 0.004, 0.015, 0.43, 0.12, 0.008, 0.003, 0.002, 0.001, 0.001]
high_6_1 = [0.002, 0.002, 0.002, 0.003, 0.006, 0.003, 0.002, 0.003, 0.008, 0.025, 0.044, 0.02, 0.008, 0.004, 0.005, 0.02, 0.2, 0.08, 0.01, 0.003, 0.002, 0.001, 0.001]

pos_6_2 = pos_fine
rand_6_2 = [0.003, 0.0015, 0.0025, 0.004, 0.0012, 0.003, 0.0015, 0.0035, 0.001, 0.002,
            0.0012, 0.0025, 0.001, 0.003, 0.0015, 0.0022, 0.001, 0.0028, 0.0015, 0.002,
            0.001, 0.0025, 0.0012, 0.0032, 0.0015, 0.0028, 0.0012, 0.0022, 0.0035, 0.0018,
            0.003, 0.0022, 0.0045, 0.0025, 0.0038, 0.005, 0.003, 0.0055, 0.0035, 0.0045,
            0.0062, 0.004, 0.007, 0.0038, 0.0065, 0.0042, 0.0055, 0.0035, 0.0075, 0.0085,
            0.004, 0.0055, 0.003]
low_6_2 = [0.0075, 0.0115, 0.002, 0.0065, 0.0005, 0.0055, 0.001, 0.009, 0.0008, 0.005,
           0.0003, 0.006, 0.0012, 0.0095, 0.0005, 0.0045, 0.0015, 0.007, 0.0005, 0.0085,
           0.001, 0.006, 0.0003, 0.0075, 0.0012, 0.005, 0.0004, 0.0088, 0.001, 0.006,
           0.0006, 0.0045, 0.0012, 0.009, 0.0005, 0.0055, 0.0015, 0.0068, 0.0005, 0.004,
           0.0012, 0.0075, 0.0004, 0.005, 0.0015, 0.0085, 0.0006, 0.0045, 0.0015, 0.003,
           0.0008, 0.0004, 0.0002]
high_6_2 = [0.0022, 0.0021, 0.0022, 0.0021, 0.0023, 0.0022, 0.0023, 0.0022, 0.0023, 0.0024,
            0.0023, 0.0024, 0.0023, 0.0025, 0.0024, 0.0025, 0.0024, 0.0023, 0.0022, 0.0023,
            0.0022, 0.0021, 0.0022, 0.0021, 0.0022, 0.002, 0.0021, 0.002, 0.0021, 0.002,
            0.0021, 0.002, 0.0019, 0.002, 0.0019, 0.0018, 0.0019, 0.0018, 0.0019, 0.0018,
            0.0018, 0.0017, 0.0018, 0.0017, 0.0016, 0.0017, 0.0016, 0.0015, 0.0016, 0.0015,
            0.0014, 0.0012, 0.001]

pos_6_3 = pos_fine
rand_6_3 = [0.002, 0.005, 0.002, 0.003, 0.002, 0.003, 0.005, 0.012, 0.004, 0.002,
            0.002, 0.003, 0.002, 0.003, 0.005, 0.003, 0.006, 0.01, 0.01, 0.004,
            0.006, 0.012, 0.004, 0.003, 0.002, 0.003, 0.002, 0.004, 0.007, 0.003,
            0.002, 0.006, 0.002, 0.003, 0.002, 0.002, 0.003, 0.002, 0.003, 0.015,
            0.02, 0.008, 0.03, 0.005, 0.003, 0.002, 0.003, 0.008, 0.004, 0.005,
            0.06, 0.02, 0.012]
low_6_3 = [0.002, 0.004, 0.002, 0.003, 0.002, 0.003, 0.006, 0.02, 0.004, 0.002,
           0.002, 0.003, 0.002, 0.003, 0.004, 0.003, 0.007, 0.011, 0.009, 0.004,
           0.007, 0.02, 0.004, 0.003, 0.002, 0.003, 0.002, 0.005, 0.008, 0.003,
           0.002, 0.007, 0.002, 0.003, 0.002, 0.002, 0.003, 0.002, 0.003, 0.025,
           0.03, 0.01, 0.045, 0.006, 0.003, 0.002, 0.003, 0.01, 0.004, 0.006,
           0.092, 0.02, 0.01]
high_6_3 = [0.002, 0.006, 0.002, 0.003, 0.002, 0.003, 0.004, 0.01, 0.004, 0.002,
            0.002, 0.003, 0.002, 0.003, 0.004, 0.003, 0.006, 0.009, 0.01, 0.004,
            0.006, 0.01, 0.004, 0.003, 0.002, 0.003, 0.002, 0.004, 0.006, 0.003,
            0.002, 0.005, 0.002, 0.003, 0.002, 0.002, 0.003, 0.002, 0.003, 0.012,
            0.015, 0.008, 0.02, 0.005, 0.003, 0.002, 0.003, 0.007, 0.004, 0.005,
            0.058, 0.015, 0.01]

pos_6_4 = [-500, -480, -470, -465, -460, -455, -450, -400, -365, -360, -355, -330, -320, -315, -300,
           -265, -260, -255, -220, -212, -205, -170, -145, -140, -135, -100, -50, -10, -5, 0, 5, 10, 20]
rand_6_4 = [0.001, 0.001, 0.002, 0.095, 0.003, 0.002, 0.001, 0.001, 0.003, 0.05, 0.003, 0.002, 0.01, 0.003, 0.001,
            0.003, 0.04, 0.003, 0.001, 0.007, 0.001, 0.001, 0.003, 0.045, 0.003, 0.001, 0.001, 0.002, 0.005, 0.14, 0.005, 0.002, 0.001]
low_6_4 = [0.001, 0.001, 0.002, 0.08, 0.003, 0.002, 0.001, 0.001, 0.003, 0.053, 0.003, 0.002, 0.01, 0.003, 0.001,
           0.003, 0.042, 0.003, 0.001, 0.007, 0.001, 0.001, 0.003, 0.05, 0.003, 0.001, 0.001, 0.002, 0.006, 0.193, 0.006, 0.002, 0.001]
high_6_4 = [0.001, 0.001, 0.002, 0.065, 0.003, 0.002, 0.001, 0.001, 0.003, 0.045, 0.003, 0.002, 0.012, 0.003, 0.001,
            0.003, 0.035, 0.003, 0.001, 0.008, 0.001, 0.001, 0.003, 0.035, 0.003, 0.001, 0.001, 0.002, 0.005, 0.06, 0.005, 0.002, 0.001]

pos_6_5 = [-500, -400, -300, -200, -100, -50, -20, -10, -5, 0, 5, 10, 20]
rand_6_5 = [0.001, 0.001, 0.001, 0.001, 0.001, 0.002, 0.003, 0.005, 0.02, 0.41, 0.02, 0.005, 0.003]
low_6_5 = [0.002, 0.002, 0.002, 0.002, 0.002, 0.003, 0.004, 0.006, 0.022, 0.4, 0.022, 0.006, 0.004]
high_6_5 = [0.001, 0.001, 0.001, 0.001, 0.001, 0.002, 0.003, 0.004, 0.015, 0.48, 0.015, 0.004, 0.003]

pos_6_6 = [-500, -400, -300, -200, -100, -50, 0, 5, 10, 15, 20]
rand_6_6 = [0.003, 0.003, 0.003, 0.003, 0.003, 0.003, 0.004, 0.004, 0.005, 0.008, 0.005]
low_6_6 = [0.006, 0.005, 0.006, 0.005, 0.005, 0.004, 0.004, 0.004, 0.005, 0.006, 0.005]
high_6_6 = [0.001, 0.001, 0.001, 0.001, 0.001, 0.002, 0.003, 0.005, 0.01, 0.435, 0.02]

panels = [
    [(pos_1_1, rand_1_1, low_1_1, high_1_1), (pos_1_2, rand_1_2, low_1_2, high_1_2),
     (pos_1_3, rand_1_3, low_1_3, high_1_3), (pos_1_4, rand_1_4, low_1_4, high_1_4),
     (pos_1_5, rand_1_5, low_1_5, high_1_5), (pos_1_6, rand_1_6, low_1_6, high_1_6)],
    [(pos_2_1, rand_2_1, low_2_1, high_2_1), (pos_2_2, rand_2_2, low_2_2, high_2_2),
     (pos_2_3, rand_2_3, low_2_3, high_2_3), (pos_2_4, rand_2_4, low_2_4, high_2_4),
     (pos_2_5, rand_2_5, low_2_5, high_2_5), (pos_2_6, rand_2_6, low_2_6, high_2_6)],
    [(pos_3_1, rand_3_1, low_3_1, high_3_1), (pos_3_2, rand_3_2, low_3_2, high_3_2),
     (pos_3_3, rand_3_3, low_3_3, high_3_3), (pos_3_4, rand_3_4, low_3_4, high_3_4),
     (pos_3_5, rand_3_5, low_3_5, high_3_5), (pos_3_6, rand_3_6, low_3_6, high_3_6)],
    [(pos_4_1, rand_4_1, low_4_1, high_4_1), (pos_4_2, rand_4_2, low_4_2, high_4_2),
     (pos_4_3, rand_4_3, low_4_3, high_4_3), (pos_4_4, rand_4_4, low_4_4, high_4_4),
     (pos_4_5, rand_4_5, low_4_5, high_4_5), (pos_4_6, rand_4_6, low_4_6, high_4_6)],
    [(pos_5_1, rand_5_1, low_5_1, high_5_1), (pos_5_2, rand_5_2, low_5_2, high_5_2),
     (pos_5_3, rand_5_3, low_5_3, high_5_3), (pos_5_4, rand_5_4, low_5_4, high_5_4),
     (pos_5_5, rand_5_5, low_5_5, high_5_5), (pos_5_6, rand_5_6, low_5_6, high_5_6)],
    [(pos_6_1, rand_6_1, low_6_1, high_6_1), (pos_6_2, rand_6_2, low_6_2, high_6_2),
     (pos_6_3, rand_6_3, low_6_3, high_6_3), (pos_6_4, rand_6_4, low_6_4, high_6_4),
     (pos_6_5, rand_6_5, low_6_5, high_6_5), (pos_6_6, rand_6_6, low_6_6, high_6_6)],
]


fig, axes = plt.subplots(6, 6, figsize=(9.58, 7.49), dpi=100, sharex=True)
fig.subplots_adjust(left=0.0574, right=0.9436, top=0.9012, bottom=0.0507,
                    wspace=0.53, hspace=0.415)

for r in range(6):
    for c in range(6):
        ax = axes[r][c]
        pos, rnd, low, high = panels[r][c]
        ax.plot(pos, rnd, color=colors[0], lw=1.2, label=labels[0])
        ax.plot(pos, low, color=colors[1], lw=1.2, alpha=0.5, label=labels[1])
        ax.plot(pos, high, color=colors[2], lw=1.2, alpha=0.5, label=labels[2])
        ax.set_title(f"{r + 1}\u2212{c + 1}", fontsize=12)
        ax.tick_params(labelsize=10)
        ax.locator_params(axis="y", nbins=3)

handles, leg_labels = axes[0][0].get_legend_handles_labels()
fig.legend(handles, leg_labels, loc="upper right", bbox_to_anchor=(0.951, 0.981),
           borderaxespad=0.0, fontsize=8.5)

fig.suptitle("x-axis: position, y-axis: average score", x=0.48, y=0.968, fontsize=14.5)

fig.savefig("out.png", dpi=100)
